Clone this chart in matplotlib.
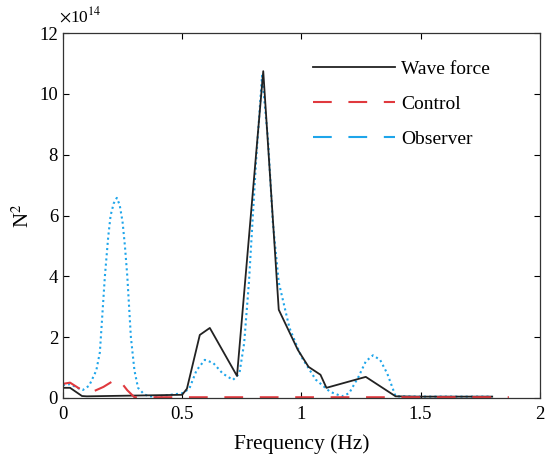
import matplotlib
matplotlib.use("Agg")
import matplotlib.pyplot as plt
from matplotlib.lines import Line2D

plt.rcParams['font.family'] = ['Liberation Serif', 'DejaVu Serif']
plt.rcParams['mathtext.fontset'] = 'stix'

# wave force spectrum (x1e14 N^2)
wave_f = [0.0, 0.03, 0.08, 0.1, 0.5, 0.52, 0.574, 0.616, 0.73, 0.84, 0.905,
          0.985, 1.03, 1.08, 1.105, 1.27, 1.395, 1.5, 1.8]
wave_p = [0.33, 0.33, 0.06, 0.05, 0.1, 0.3, 2.07, 2.3, 0.72, 10.75, 2.9,
          1.58, 1.02, 0.76, 0.33, 0.69, 0.05, 0.04, 0.04]

# observer estimate
obs_f = [0.0, 0.03, 0.06, 0.084, 0.11, 0.14, 0.155, 0.176, 0.19, 0.2, 0.213,
         0.226, 0.238, 0.25, 0.26, 0.27, 0.285, 0.3, 0.315, 0.34, 0.36, 0.4,
         0.5, 0.53, 0.56, 0.595, 0.63, 0.67, 0.713, 0.74, 0.76, 0.78, 0.81,
         0.835, 0.86, 0.88, 0.905, 0.95, 1.0, 1.06, 1.12, 1.17, 1.2, 1.24,
         1.27, 1.30, 1.33, 1.36, 1.395, 1.5, 1.8]
obs_p = [0.42, 0.45, 0.33, 0.26, 0.4, 0.9, 1.5, 4.0, 5.3, 6.0, 6.4,
         6.58, 6.35, 5.8, 5.0, 4.0, 2.0, 0.9, 0.33, 0.12, 0.05, 0.05,
         0.15, 0.3, 0.9, 1.25, 1.15, 0.8, 0.59, 0.8, 1.8, 3.8, 7.8,
         10.6, 8.5, 5.8, 3.8, 2.3, 1.35, 0.6, 0.2, 0.05, 0.15, 0.7,
         1.2, 1.4, 1.25, 0.8, 0.05, 0.04, 0.04]

# control force
ctl_f = [0.0, 0.03, 0.06, 0.09, 0.11, 0.17, 0.23, 0.27, 0.3, 1.0, 1.87]
ctl_p = [0.46, 0.5, 0.35, 0.2, 0.15, 0.36, 0.65, 0.25, 0.02, 0.02, 0.02]

wave_c = '#222222'
ctl_c = '#e0393e'
obs_c = '#1ea5ea'

fig = plt.figure(figsize=(5.47, 4.61), dpi=100)
ax = fig.add_axes([0.115, 0.137, 0.872, 0.791])

ax.plot(obs_f, obs_p, color=obs_c, ls=(0, (1, 1.5)), lw=1.5)
ax.plot(wave_f, wave_p, color=wave_c, lw=1.3)
ax.plot(ctl_f, ctl_p, color=ctl_c, ls=(0, (9, 8)), lw=1.5)

ax.set_xlim(0, 2)
ax.set_ylim(0, 12)
ax.set_xticks([0, 0.5, 1, 1.5, 2])
ax.set_xticklabels(['0', '0.5', '1', '1.5', '2'])
ax.set_yticks([0, 2, 4, 6, 8, 10, 12])
ax.tick_params(direction='in', top=True, right=True, labelsize=13.5, length=4)
ax.tick_params(axis='x', pad=6)
for s in ax.spines.values():
    s.set_color('#333333')
    s.set_linewidth(0.9)

ax.set_xlabel('Frequency (Hz)', fontsize=15.5, labelpad=8)
ax.set_ylabel('N$^2$', fontsize=15)
ax.text(-0.008, 1.02, r'$\times$10$^{14}$', transform=ax.transAxes,
        fontsize=12.5, va='bottom', ha='left')

handles = [Line2D([], [], color=wave_c, lw=1.3),
           Line2D([], [], color=ctl_c, lw=1.5, ls=(0, (9, 8))),
           Line2D([], [], color=obs_c, lw=1.5, ls=(0, (9, 8)))]
ax.legend(handles, ['Wave force', 'Control', 'Observer'], loc='upper left',
          frameon=False, fontsize=14, handlelength=4.2, handletextpad=0.35,
          labelspacing=0.88, borderpad=0, borderaxespad=0,
          bbox_to_anchor=(0.524, 0.925))

fig.savefig('out.png', dpi=100)
